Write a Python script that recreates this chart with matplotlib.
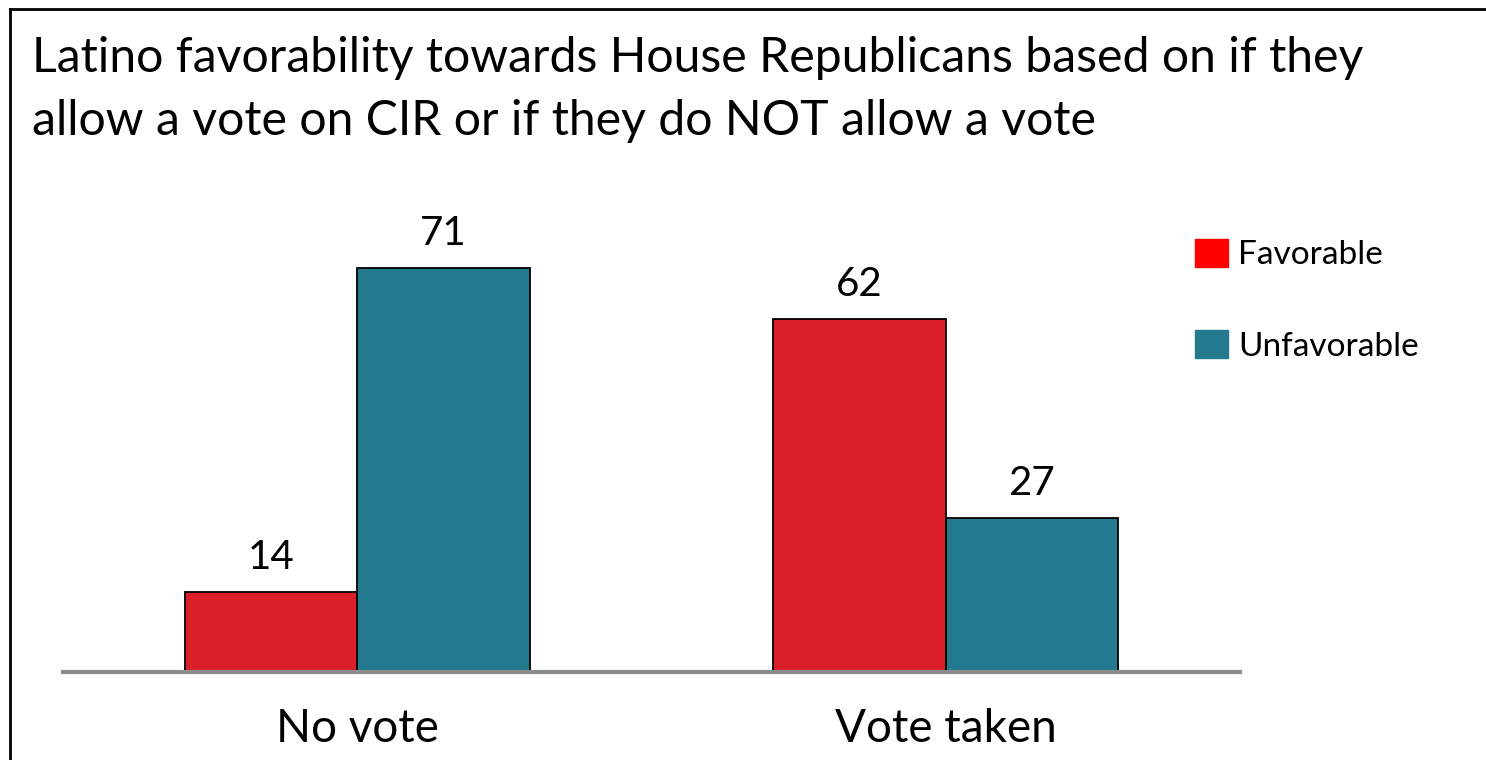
import matplotlib
matplotlib.use("Agg")
import matplotlib.pyplot as plt
import numpy as np
from matplotlib.lines import Line2D
from matplotlib.patches import Patch

# Chart data
categories = ["No vote", "Vote taken"]
series_names = ["Favorable", "Unfavorable"]
favorable = [14, 62]
unfavorable = [71, 27]
title_lines = ["Latino favorability towards House Republicans based on if they",
               "allow a vote on CIR or if they do NOT allow a vote"]

bar_colors = ["#DA1F28", "#237A8E"]
legend_colors = ["#FF0000", "#237A8E"]

plt.rcParams['font.family'] = ['Lato', 'DejaVu Sans']

fig = plt.figure(figsize=(14.86, 7.6), dpi=100)
ax = fig.add_axes([63 / 1486, 88 / 760, 1177 / 1486, 455 / 760])

x = np.arange(len(categories))
width = 0.293
b1 = ax.bar(x - width / 2, favorable, width, color=bar_colors[0],
            edgecolor="black", linewidth=1.3, zorder=2)
b2 = ax.bar(x + width / 2, unfavorable, width, color=bar_colors[1],
            edgecolor="black", linewidth=1.3, zorder=2)

for bars in (b1, b2):
    ax.bar_label(bars, padding=12, fontsize=29, color="black")

ax.set_xlim(-0.5, 1.5)
ax.set_ylim(0, 80)
ax.set_xticks(x)
ax.set_xticklabels(categories, fontsize=33)
ax.tick_params(axis="x", length=0, pad=26)
ax.set_yticks([])
for side in ["top", "right", "left"]:
    ax.spines[side].set_visible(False)
ax.spines["bottom"].set_color("#8C8C8C")
ax.spines["bottom"].set_linewidth(3)
ax.spines["bottom"].set_zorder(3)

handles = [Patch(facecolor=c, edgecolor=c) for c in legend_colors]
fig.legend(handles, series_names, loc="upper left",
           bbox_to_anchor=(1195 / 1486, 1 - 239 / 760), frameon=False,
           borderpad=0, borderaxespad=0,
           fontsize=24, handlelength=1.0, handleheight=0.9,
           handletextpad=0.3, labelspacing=1.8)

# title, two lines
fig.text(32 / 1486, 1 - 72 / 760, title_lines[0], fontsize=34.7,
         ha="left", va="baseline")
fig.text(32 / 1486, 1 - 135 / 760, title_lines[1], fontsize=34.7,
         ha="left", va="baseline")

# outer frame (left and top edges visible)
top = 1 - 9 / 760
left = 9.5 / 1486
fig.add_artist(Line2D([left, left], [0, top], color="black", linewidth=2))
fig.add_artist(Line2D([left, 1], [top, top], color="black", linewidth=2))

fig.savefig("out.png", dpi=100)
